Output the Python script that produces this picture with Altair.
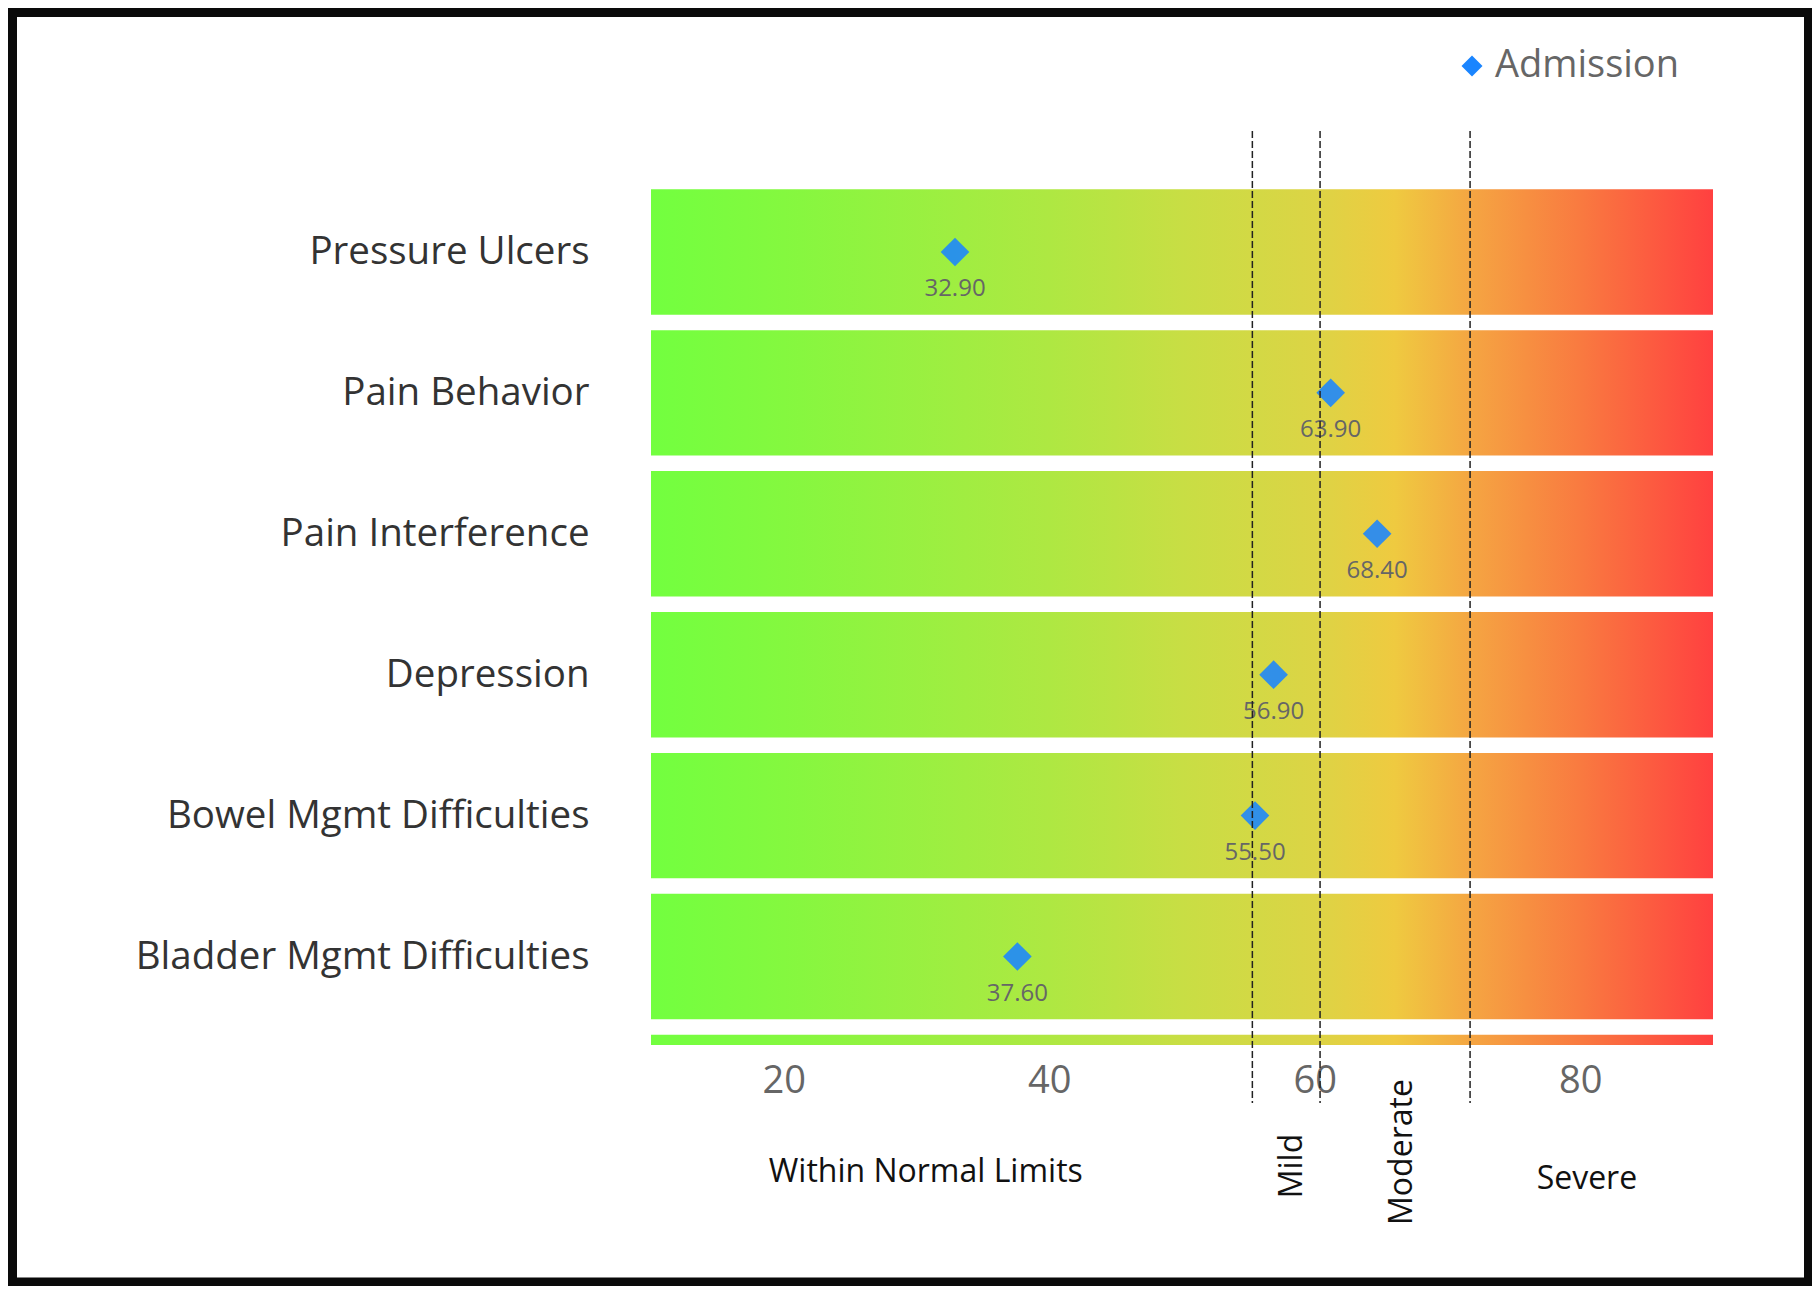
import json
import altair as alt
import pandas as pd

# ---------------- data ----------------
categories = [
    "Pressure Ulcers",
    "Pain Behavior",
    "Pain Interference",
    "Depression",
    "Bowel Mgmt Difficulties",
    "Bladder Mgmt Difficulties",
]
marker_pos = [32.9, 61.2, 64.7, 56.9, 55.5, 37.6]          # where the diamonds sit
marker_labels = ["32.90", "63.90", "68.40", "56.90", "55.50", "37.60"]  # printed values
series_name = "Admission"

x_domain = [10, 90]
x_ticks = [20, 40, 60, 80]

threshold_values = [55.3, 60.4, 71.7]
zone_names = ["Within Normal Limits", "Mild", "Moderate", "Severe"]
zone_centers = [30.7, 58.3, 66.6, 80.5]

band_count = 7  # six rows plus a seventh band cut off by the plot edge

gradient_offsets = [0.0, 0.125, 0.375, 0.5, 0.625, 0.70, 0.775, 0.875, 1.0]
gradient_colors = ["#72FF3F", "#84F83F", "#AEE842", "#C8DE44", "#DCD445",
                   "#EFCA40", "#F5A442", "#F97A40", "#FF4040"]

# ---------------- layout / style ----------------
FONT = "Open Sans"
W, H = 1062, 858
PAD = {"left": 643, "top": 179, "right": 99, "bottom": 237}
HALF = 0.445

x_scale = alt.Scale(domain=x_domain, nice=False, zero=False)
y_scale = alt.Scale(domain=[-0.461, 5.628], reverse=True, nice=False, zero=False)

x_axis = alt.Axis(values=x_ticks, title=None, domain=False, ticks=False, grid=False,
                  labelFontSize=38, labelColor="#666666", labelFont=FONT, labelPadding=17)
label_expr = json.dumps(categories) + "[datum.value]"
y_axis = alt.Axis(values=list(range(len(categories))), labelExpr=label_expr, title=None,
                  domain=False, ticks=False, grid=False, labelFontSize=38.5,
                  labelColor="#333333", labelFont=FONT, labelPadding=62,
                  labelBaseline="middle", labelLimit=1000)


def X(field):
    return alt.X(field, type="quantitative", scale=x_scale, axis=x_axis)


def Y(field):
    return alt.Y(field, type="quantitative", scale=y_scale, axis=y_axis)


bands = pd.DataFrame({"row": list(range(band_count))})
bands["x0"] = x_domain[0]
bands["x1"] = x_domain[1]

points = pd.DataFrame({
    "row": list(range(len(categories))),
    "pos": marker_pos,
    "label": marker_labels,
    "series": series_name,
})

gradient = alt.Gradient(
    gradient="linear",
    stops=[alt.GradientStop(offset=o, color=c) for o, c in zip(gradient_offsets, gradient_colors)],
    x1=0, x2=1, y1=0, y2=0,
)

band_layer = alt.Chart(bands).mark_rect(fill=gradient, clip=True).transform_calculate(
    top=f"datum.row - {HALF}", bottom=f"datum.row + {HALF}"
).encode(x=X("x0"), x2="x1", y=Y("top"), y2="bottom")

point_layer = alt.Chart(points).mark_point(
    shape="diamond", filled=True, size=820, opacity=0.88, strokeWidth=0
).encode(
    x=X("pos"), y=Y("row"),
    color=alt.Color("series:N", scale=alt.Scale(domain=[series_name], range=["#1A85FF"]),
                    legend=alt.Legend(orient="none", legendX=802, legendY=-140, title=None,
                                      symbolType="diamond", symbolSize=441, symbolOpacity=1,
                                      symbolStrokeWidth=0, labelFont=FONT, labelFontSize=38,
                                      labelColor="#666666", labelOffset=4, labelLimit=1000)),
)

label_layer = alt.Chart(points).mark_text(
    dy=37, fontSize=24, font=FONT, color="#666666", baseline="middle"
).encode(x=X("pos"), y=Y("row"), text="label:N")

rule_layer = alt.Chart(pd.DataFrame({"t": threshold_values})).mark_rule(
    strokeDash=[7, 3], strokeWidth=1.5, color="#222222"
).encode(x=X("t"), y=alt.value(-56), y2=alt.value(916))

zones = pd.DataFrame({"zone": zone_names, "xc": zone_centers})
zone_style = {
    "Within Normal Limits": (985, 0),
    "Mild": (979, 270),
    "Moderate": (965, 270),
    "Severe": (992, 0),
}
zone_layers = []
for name in zone_names:
    yy, ang = zone_style[name]
    zone_layers.append(
        alt.Chart(zones).transform_filter(alt.datum.zone == name).mark_text(
            fontSize=32, font=FONT, color="#111111", align="center", baseline="middle", angle=ang
        ).encode(x=X("xc"), y=alt.value(yy), text="zone:N")
    )

frame = alt.Chart(pd.DataFrame({"k": [0]})).mark_rect(
    fill=None, stroke="#0A0A0A", strokeWidth=9
).encode(x=alt.value(-638.5), x2=alt.value(1157.5), y=alt.value(-174.5), y2=alt.value(1095))

chart = alt.layer(
    band_layer, point_layer, label_layer, rule_layer, *zone_layers, frame
).properties(
    width=W, height=H, autosize=alt.AutoSizeParams(type="none"),
    padding={"left": 643, "top": 179, "right": 99, "bottom": 241},
    background="white",
).configure_view(stroke=None)

chart.save("out.html", embed_options={"renderer": "svg", "actions": False})
